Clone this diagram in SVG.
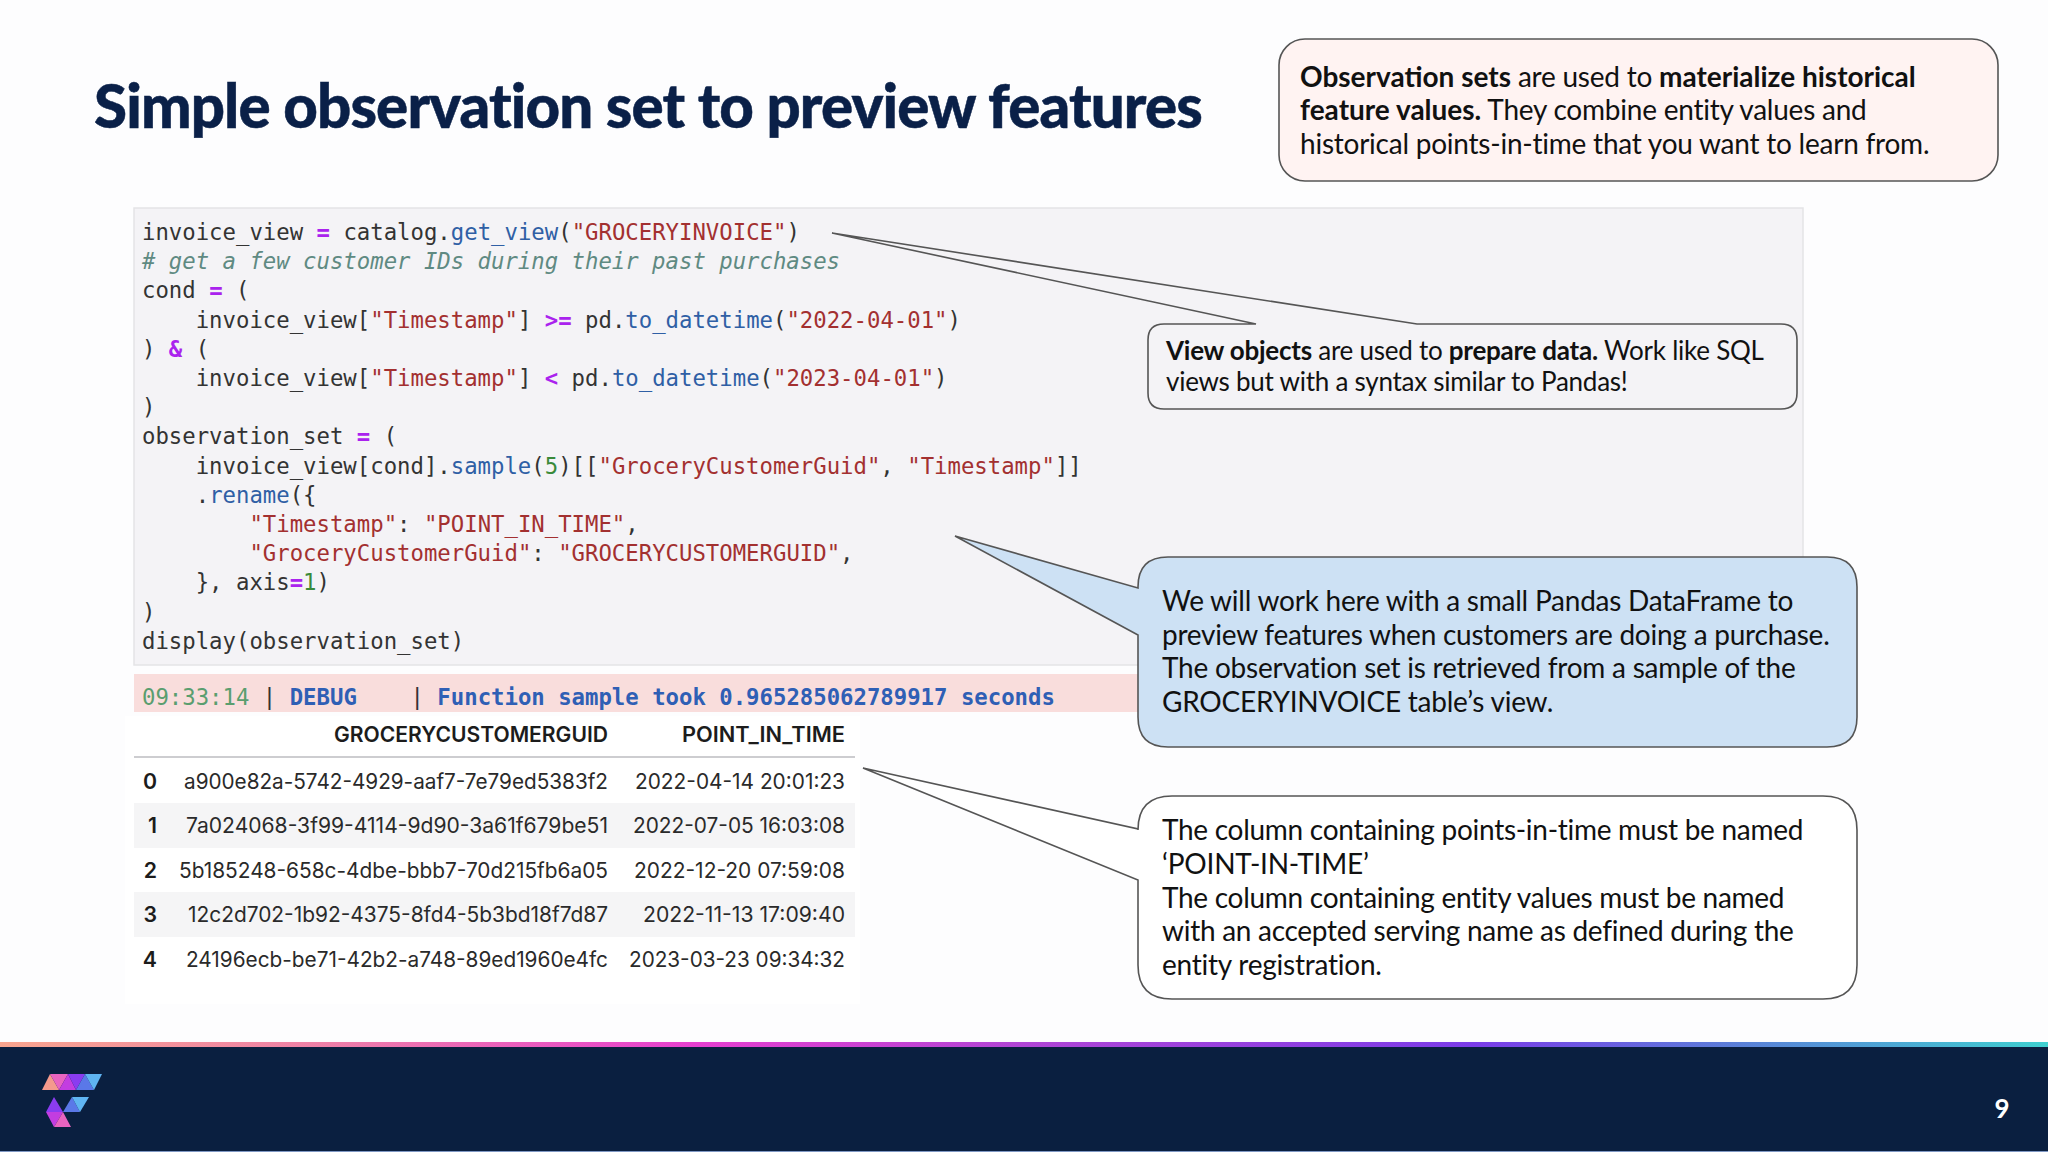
<svg xmlns="http://www.w3.org/2000/svg" width="2048" height="1152" viewBox="0 0 2048 1152">
<defs>
<linearGradient id="bar" x1="0" x2="1" y1="0" y2="0">
<stop offset="0" stop-color="#f8a58f"/><stop offset="0.16" stop-color="#ee7fa8"/><stop offset="0.34" stop-color="#e63fd0"/><stop offset="0.5" stop-color="#b045d5"/><stop offset="0.72" stop-color="#7a3ce8"/><stop offset="0.85" stop-color="#5a80d8"/><stop offset="1" stop-color="#3fd0d0"/>
</linearGradient>
</defs>
<style>
.c{font-family:"DejaVu Sans Mono","Liberation Mono",monospace;font-size:22.3px;fill:#333;white-space:pre}
.o{fill:#aa22ee;font-weight:bold}.f{fill:#2f5fa5}.s{fill:#a33030}.n{fill:#3a8a3a}.h{fill:#5f8a82;font-style:italic}
.d{font-family:"DejaVu Sans Mono","Liberation Mono",monospace;font-size:22.3px;white-space:pre;fill:#333}
.t{font-family:Inter,"Liberation Sans",sans-serif;font-size:20.8px;fill:#2a2a2a;text-anchor:end}
.b{font-weight:600;font-size:21.3px;fill:#1c1c1c}
.l{font-family:Lato,"Liberation Sans",sans-serif;font-size:28px;fill:#111;letter-spacing:-.23px}
.m{font-family:Lato,"Liberation Sans",sans-serif;font-size:26px;fill:#111;letter-spacing:-.25px}
.w{font-weight:700;letter-spacing:0}
.m .w{letter-spacing:-.25px}
.bub{stroke:#555;stroke-width:1.6}
</style>
<rect width="2048" height="1152" fill="#fdfdfe"/>
<text x="94" y="128" font-family="Lato,'Liberation Sans',sans-serif" font-size="60" font-weight="900" fill="#0a2048" stroke="#0a2048" stroke-width=".5" letter-spacing="-.85">Simple observation set to preview features</text>

<g id="code">
<rect x="134" y="208" width="1669" height="457" fill="#f4f3f6" stroke="#e4e4e6" stroke-width="1.5"/>
<text class="c" x="142" y="240">invoice_view <tspan class="o">=</tspan> catalog.<tspan class="f">get_view</tspan>(<tspan class="s">"GROCERYINVOICE"</tspan>)</text>
<text class="c h" x="142" y="269"># get a few customer IDs during their past purchases</text>
<text class="c" x="142" y="298.400">cond <tspan class="o">=</tspan> (</text>
<text class="c" x="142" y="327.600">    invoice_view[<tspan class="s">"Timestamp"</tspan>] <tspan class="o">&gt;=</tspan> pd.<tspan class="f">to_datetime</tspan>(<tspan class="s">"2022-04-01"</tspan>)</text>
<text class="c" x="142" y="356.800">) <tspan class="o">&amp;</tspan> (</text>
<text class="c" x="142" y="386">    invoice_view[<tspan class="s">"Timestamp"</tspan>] <tspan class="o">&lt;</tspan> pd.<tspan class="f">to_datetime</tspan>(<tspan class="s">"2023-04-01"</tspan>)</text>
<text class="c" x="142" y="415.200">)</text>
<text class="c" x="142" y="444.400">observation_set <tspan class="o">=</tspan> (</text>
<text class="c" x="142" y="473.600">    invoice_view[cond].<tspan class="f">sample</tspan>(<tspan class="n">5</tspan>)[[<tspan class="s">"GroceryCustomerGuid"</tspan>, <tspan class="s">"Timestamp"</tspan>]]</text>
<text class="c" x="142" y="502.800">    .<tspan class="f">rename</tspan>({</text>
<text class="c" x="142" y="532">        <tspan class="s">"Timestamp"</tspan>: <tspan class="s">"POINT_IN_TIME"</tspan>,</text>
<text class="c" x="142" y="561.200">        <tspan class="s">"GroceryCustomerGuid"</tspan>: <tspan class="s">"GROCERYCUSTOMERGUID"</tspan>,</text>
<text class="c" x="142" y="590.400">    }, axis<tspan class="o">=</tspan><tspan class="n">1</tspan>)</text>
<text class="c" x="142" y="619.600">)</text>
<text class="c" x="142" y="648.800">display(observation_set)</text>
</g>

<g id="log">
<rect x="134" y="674" width="1010" height="38" fill="#f9dddc"/>
<text class="d" x="142" y="705"><tspan fill="#5a9e6f">09:33:14</tspan> | <tspan fill="#2f5fb5" font-weight="bold">DEBUG</tspan>    | <tspan fill="#2f5fb5" font-weight="bold">Function sample took 0.965285062789917 seconds</tspan></text>
</g>

<g id="table">
<rect x="125" y="716" width="735" height="288" fill="#fff"/>
<rect x="134" y="803" width="721" height="45" fill="#f5f5f6"/>
<rect x="134" y="892" width="721" height="45" fill="#f5f5f6"/>
<line x1="134" y1="757" x2="855" y2="757" stroke="#bcbcc0" stroke-width="1.6"/>
<text class="t b" x="608" y="742" textLength="274" lengthAdjust="spacingAndGlyphs">GROCERYCUSTOMERGUID</text>
<text class="t b" x="845" y="742" textLength="163" lengthAdjust="spacingAndGlyphs">POINT_IN_TIME</text>
<text class="t b" x="157" y="788.500">0</text><text class="t" x="608" y="788.500" textLength="424" lengthAdjust="spacingAndGlyphs">a900e82a-5742-4929-aaf7-7e79ed5383f2</text><text class="t" x="845" y="788.500" textLength="210" lengthAdjust="spacingAndGlyphs">2022-04-14 20:01:23</text>
<text class="t b" x="157" y="833">1</text><text class="t" x="608" y="833" textLength="422" lengthAdjust="spacingAndGlyphs">7a024068-3f99-4114-9d90-3a61f679be51</text><text class="t" x="845" y="833" textLength="212" lengthAdjust="spacingAndGlyphs">2022-07-05 16:03:08</text>
<text class="t b" x="157" y="877.500">2</text><text class="t" x="608" y="877.500" textLength="429" lengthAdjust="spacingAndGlyphs">5b185248-658c-4dbe-bbb7-70d215fb6a05</text><text class="t" x="845" y="877.500" textLength="211" lengthAdjust="spacingAndGlyphs">2022-12-20 07:59:08</text>
<text class="t b" x="157" y="922">3</text><text class="t" x="608" y="922" textLength="420" lengthAdjust="spacingAndGlyphs">12c2d702-1b92-4375-8fd4-5b3bd18f7d87</text><text class="t" x="845" y="922" textLength="202" lengthAdjust="spacingAndGlyphs">2022-11-13 17:09:40</text>
<text class="t b" x="157" y="966.500">4</text><text class="t" x="608" y="966.500" textLength="422" lengthAdjust="spacingAndGlyphs">24196ecb-be71-42b2-a748-89ed1960e4fc</text><text class="t" x="845" y="966.500" textLength="216" lengthAdjust="spacingAndGlyphs">2023-03-23 09:34:32</text>
</g>

<g id="callout-observation">
<rect class="bub" x="1279" y="39" width="719" height="142" rx="26" fill="#fff3f2"/>
<text class="l" x="1300" y="86.500"><tspan class="w">Observation sets</tspan> are used to <tspan class="w">materialize historical</tspan></text>
<text class="l" x="1300" y="120"><tspan class="w">feature values.</tspan> They combine entity values and</text>
<text class="l" x="1300" y="153.500">historical points-in-time that you want to learn from.</text>
</g>

<g id="callout-view">
<path class="bub" fill="#f4f3f6" d="M1164 324H1256L832 233L1417 324H1781Q1797 324 1797 340V393Q1797 409 1781 409H1164Q1148 409 1148 393V340Q1148 324 1164 324Z"/>
<text class="m" x="1166" y="360"><tspan class="w">View objects</tspan> are used to <tspan class="w">prepare data.</tspan> Work like SQL</text>
<text class="m" x="1166" y="391">views but with a syntax similar to Pandas!</text>
</g>

<g id="callout-blue">
<path class="bub" fill="#cde1f4" d="M1168 557H1827Q1857 557 1857 587V717Q1857 747 1827 747H1168Q1138 747 1138 717V635L955 536L1138 588V587Q1138 557 1168 557Z"/>
<text class="l" x="1162" y="611">We will work here with a small Pandas DataFrame to</text>
<text class="l" x="1162" y="644.500">preview features when customers are doing a purchase.</text>
<text class="l" x="1162" y="678">The observation set is retrieved from a sample of the</text>
<text class="l" x="1162" y="711.500">GROCERYINVOICE table’s view.</text>
</g>

<g id="callout-white">
<path class="bub" fill="#fff" d="M1172 796H1823Q1857 796 1857 830V965Q1857 999 1823 999H1172Q1138 999 1138 965V880L863 768L1138 829V830Q1138 796 1172 796Z"/>
<text class="l" x="1162" y="840" style="letter-spacing:-.28px">The column containing points-in-time must be named</text>
<text class="l" x="1162" y="873.500">‘POINT-IN-TIME’</text>
<text class="l" x="1162" y="907.500" style="letter-spacing:-.28px">The column containing entity values must be named</text>
<text class="l" x="1162" y="941" style="letter-spacing:-.28px">with an accepted serving name as defined during the</text>
<text class="l" x="1162" y="974.500">entity registration.</text>
</g>

<g id="footer">
<rect x="0" y="1047" width="2048" height="104" fill="#0a1f40"/>
<rect x="0" y="1042" width="2048" height="5" fill="url(#bar)"/>
<rect x="0" y="1151" width="2048" height="1" fill="#7f98c4"/>
<g id="logo">
<polygon points="42,1090 50,1074 59,1090" fill="#f59a8c"/>
<polygon points="50,1074 68,1074 59,1090" fill="#e964c0"/>
<polygon points="59,1090 68,1074 76,1090" fill="#c33de0"/>
<polygon points="68,1074 85,1074 76,1090" fill="#8a3cf0"/>
<polygon points="76,1090 85,1074 94,1090" fill="#5a78e8"/>
<polygon points="85,1074 102,1074 94,1090" fill="#5fb4f2"/>
<polygon points="63,1112 72,1097 80,1112" fill="#5a78e8"/>
<polygon points="72,1097 89,1097 80,1112" fill="#5fb4f2"/>
<polygon points="46,1112 54,1097 63,1112" fill="#8a3cf0"/>
<polygon points="46,1112 63,1112 54,1127" fill="#c33de0"/>
<polygon points="63,1112 54,1127 71,1127" fill="#e964c0"/>
</g>
<text x="2002" y="1118" font-family="Lato,'Liberation Sans',sans-serif" font-size="26" font-weight="700" fill="#fff" text-anchor="middle">9</text>
</g>
</svg>
